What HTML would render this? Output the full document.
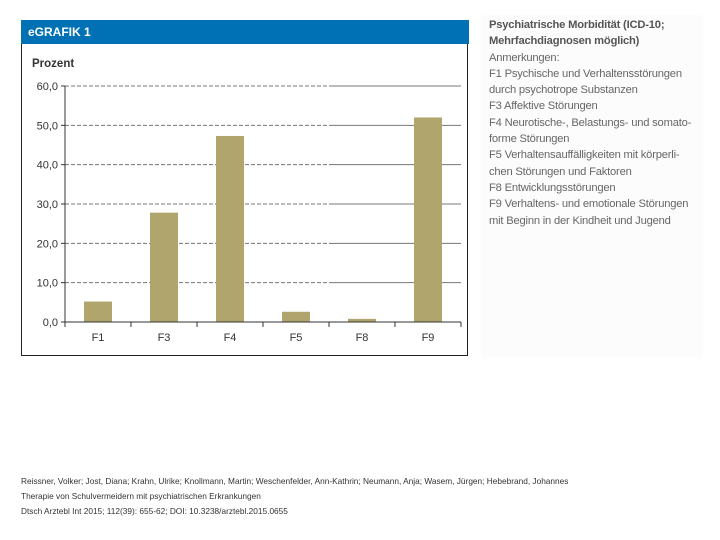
<!DOCTYPE html>
<html><head><meta charset="utf-8"><style>
body{margin:0;width:720px;height:540px;background:#fff;position:relative;font-family:"Liberation Sans",sans-serif;overflow:hidden}
#panel{position:absolute;left:21px;top:20px;width:447px;height:336px;border:1px solid #222;border-top:none;box-sizing:border-box}
#hdr{position:absolute;left:21px;top:20px;width:448px;height:24px;background:#0071b5;color:#fff;font-weight:bold;font-size:12px;line-height:24px;padding-left:7px;box-sizing:border-box}
#side{position:absolute;left:481px;top:15px;width:222px;height:342px;background:#fcfcfc;color:#666;font-size:11.2px;line-height:16.3px;padding:2px 0 0 8px;box-sizing:border-box;letter-spacing:-0.2px}
#side b{color:#555}
.foot{position:absolute;left:21px;font-size:8.3px;color:#333}
</style></head><body>
<div id="panel"></div>
<div id="hdr">eGRAFIK 1</div>
<svg id="chart" width="720" height="540" style="position:absolute;left:0;top:0"></svg>
<div id="side"><b>Psychiatrische Morbidität (ICD-10;<br>Mehrfachdiagnosen möglich)</b><br>Anmerkungen:<br>F1 Psychische und Verhaltensstörungen<br>durch psychotrope Substanzen<br>F3 Affektive Störungen<br>F4 Neurotische-, Belastungs- und somato-<br>forme Störungen<br>F5 Verhaltensauffälligkeiten mit körperli-<br>chen Störungen und Faktoren<br>F8 Entwicklungsstörungen<br>F9 Verhaltens- und emotionale Störungen<br>mit Beginn in der Kindheit und Jugend</div>
<div class="foot" style="top:476px">Reissner, Volker; Jost, Diana; Krahn, Ulrike; Knollmann, Martin; Weschenfelder, Ann-Kathrin; Neumann, Anja; Wasem, Jürgen; Hebebrand, Johannes</div>
<div class="foot" style="top:491px">Therapie von Schulvermeidern mit psychiatrischen Erkrankungen</div>
<div class="foot" style="top:506px">Dtsch Arztebl Int 2015; 112(39): 655-62; DOI: 10.3238/arztebl.2015.0655</div>
<script>
const categories=["F1","F3","F4","F5","F8","F9"];
const values=[5.2,27.8,47.3,2.6,0.8,52.0];
const yTicks=[0,10,20,30,40,50,60];
const yTickLabels=["0,0","10,0","20,0","30,0","40,0","50,0","60,0"];
const svg=document.getElementById('chart');const NS="http://www.w3.org/2000/svg";
const x0=65,x1=461,y0=322,y1=86,ymax=60;
const ys=v=>y0-(v/ymax)*(y0-y1);
const step=(x1-x0)/categories.length;
const xc=i=>x0+step*(i+0.5);
function mk(t,a){const e=document.createElementNS(NS,t);for(const k in a)e.setAttribute(k,a[k]);svg.appendChild(e);return e;}
mk('text',{x:32,y:67,'font-size':'11.5','font-weight':'bold',fill:'#333','font-family':'Liberation Sans'}).textContent='Prozent';
yTicks.forEach((v,i)=>{const y=ys(v);
 if(v>0){const g=mk('line',{x1:x0,x2:333,y1:y,y2:y,stroke:'#777','stroke-dasharray':'4,2','stroke-width':1});
 
 const g2=mk('line',{x1:333,x2:461,y1:y,y2:y,stroke:'#777','stroke-width':1});
 }
 mk('line',{x1:x0-4,x2:x0,y1:y,y2:y,stroke:'#333'});
 const t=mk('text',{x:x0-7,y:y+4,'text-anchor':'end','font-size':'11',fill:'#333','font-family':'Liberation Sans'});t.textContent=yTickLabels[i];
 });
values.forEach((v,i)=>{const r=mk('rect',{x:xc(i)-14,y:ys(v),width:28,height:y0-ys(v),fill:'#b0a56c'});
 
 const t=mk('text',{x:xc(i),y:341,'text-anchor':'middle','font-size':'11',fill:'#333','font-family':'Liberation Sans'});t.textContent=categories[i];
 });
for(let i=0;i<=categories.length;i++){mk('line',{x1:x0+step*i,x2:x0+step*i,y1:y0,y2:y0+5,stroke:'#333'});}
const ax=mk('line',{x1:x0,x2:x0,y1:y1,y2:y0,stroke:'#333'});
const bx=mk('line',{x1:x0,x2:x1,y1:y0,y2:y0,stroke:'#333'});
</script>
</body></html>
